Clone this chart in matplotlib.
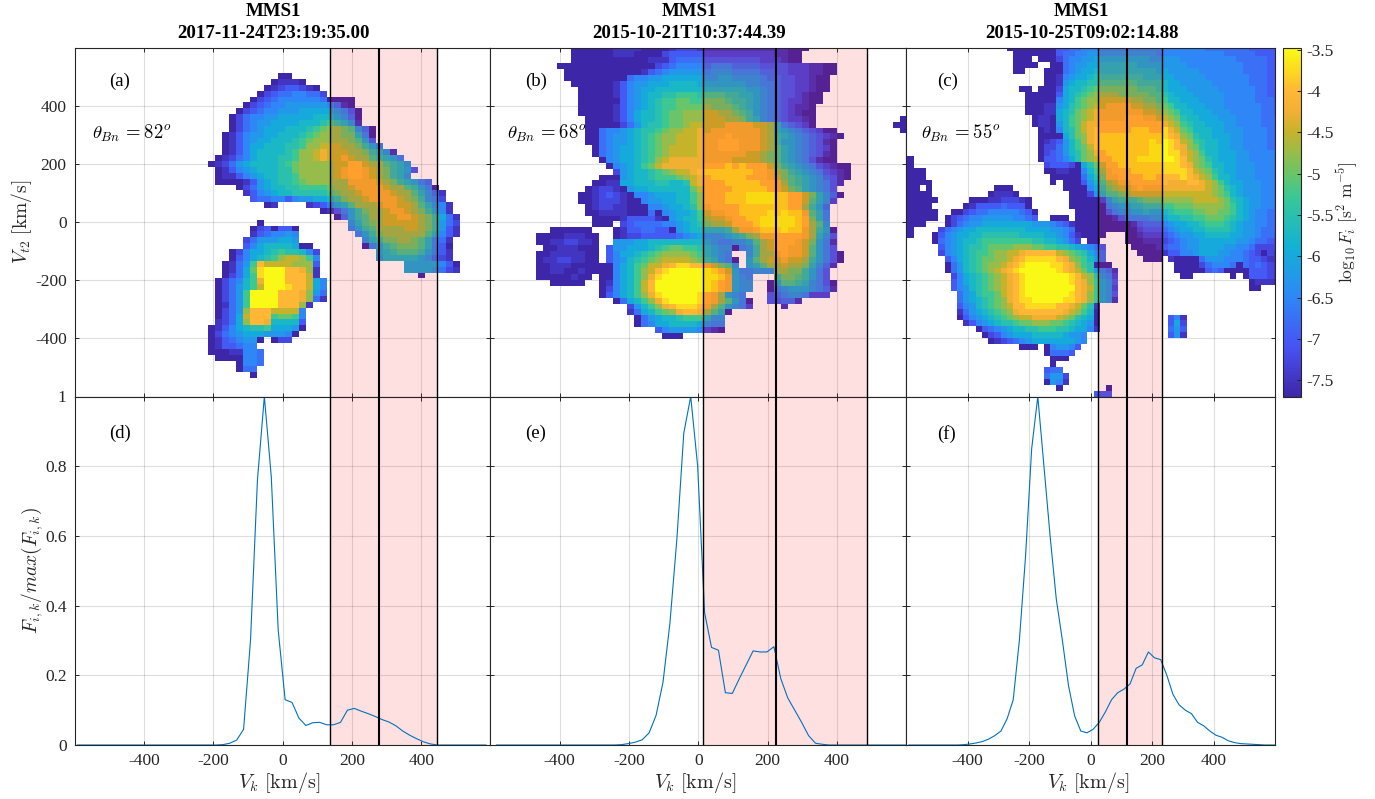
import numpy as np
import matplotlib
matplotlib.use("Agg")
import matplotlib.pyplot as plt
from matplotlib.colors import LinearSegmentedColormap

plt.rcParams['font.family'] = ['Liberation Serif', 'DejaVu Serif']
plt.rcParams['mathtext.fontset'] = 'cm'
plt.rcParams['axes.unicode_minus'] = False

# heat maps: each row is "startcol values startcol values ...", top row first
# one char per cell, see level_chars below. blank = no data
level_chars = "0123456789abcdefgh"
level_vals = [-7.7, -7.5, -7.25, -7.0, -6.75, -6.5, -6.25, -6.0, -5.75, -5.5,
              -5.25, -5.0, -4.75, -4.5, -4.25, -4.0, -3.75, -3.5]

rows_a = [
"", "", "", "",
"29 00",
"28 01110",
"27 01233210",
"26 0234455442",
"25 02345555554 36 0000",
"24 0234556666665410",
"23 023455666777776530",
"22 0245566777778887640",
"22 02456677778889a9861",
"22 024567778889abccba640",
"21 0135667788 31 89abcccbb850",
"21 01356778889abcccccba73",
"21 01357788899accdddccb975",
"21 0135788889accdedddccb9861",
"20 01245788899accdeddedcca9875",
"19 01246788889abcccccddffdcca986",
"20 01356788899bcccccdeffedcb9873",
"20 01135678899acccccdeffedcb986",
"20 0000136789 30 9abcccccceeeedcb98754",
"23 024678899aaaabccdeeeedcca9750",
"24 135678899999abccdeeeedcca8641",
"25 3445535667789bccdeeeedcb9652",
"27 01 33 123578acccdeeddca8651",
"35 013579bccdeedcb9751",
"37 0479accddeedcb9741",
"26 0 39 68abcdddddcb9642",
"25 0230330 39 579accccddcb9631",
"25 1345565 40 579bcccccca8531",
"24 24666776 41 689bbccba8541",
"24 3578888700 41 0579abbba8530",
"22 0257789a99852 43 789aaa97531",
"22 035789acddca5 43 68888876421",
"21 0146afddddccc3 47 77777530",
"21 0147bghhhffec1 47 77776421",
"21 0247aghhhfffd1 49 0",
"20 02458aehhhfffd75",
"20 02468adhhhgffd75",
"20 0246ahhhhfffec64",
"20 0246ahhhhfffec41",
"20 0146ahhhhfffc1",
"20 0246cfffdddd5",
"20 0247dfffabba5",
"20 1247cffe88883",
"19 01357899a77760",
"19 0245677766650",
"19 01345660 28 022",
"19 0133455",
"19 00011554",
"20 0000554",
"23 0554",
"23 044",
"25 0",
]

rows_b = [
"11 00000011110000 25 1222 29 111111111111 41 1000",
"11 0000001110000 24 233333 30 22222222221 41 100",
"11 00000000000111 25 34444 30 33333333222 41 100",
"9 00000000000000 23 2345555 30 45554444333 41 32221100",
"10 00000000000 21 134566666 30 56665555443 41 32221100",
"10 000000000 19 45566777777 30 66776666544 41 3322100",
"11 000000 17 1356677788887 30 77777766554 41 3322100",
"12 00000 17 1356778888888 30 88888877654 41 3322100",
"12 0000 16 0135678899aaa9 30 aaa99887654 41 332100",
"12 0000 16 00356789aabbaa 30 bbba9987654 41 322100",
"12 0000 16 01356789aabbbb 30 cbbba987654 41 32110",
"12 0000 16 01357889abbccc 30 ddccba97654 41 32100",
"13 000 16 01357889abbccc 30 dddccb98654 41 32210 58 0",
"13 000 16 00246899abbcdd 30 dddeeeeddc8 41 54320 57 00",
"13 00 15 45567899abccdde 30 deeeeeeedc8 41 76543200 58 0",
"13 00 15 4566789abccddde 30 eeefeeeedc9 41 876543210",
"13 00 15 4566789abccddde 30 eefffeeedc9 41 77654310",
"14 0 15 4567789abcdddde 30 eefffeeedca 41 87654320",
"14 0 15 4567789abcdddde 30 eeeeeeddcba 41 87654310",
"15 0567789acdeeeee 30 eeeeddddcba 41 87653100",
"16 05678abdeeeeee 30 fffgfgfffdb 41 9876532100",
"17 267889abcddef 30 gggggggffec 41 b987653210",
"15 000 18 67889aaabcde 30 fgggggfffed 41 ba98764310",
"14 0011 18 7788899889de 30 fffgggggffe 41 ca9876531",
"13 012210 19 677888888bd 30 ffffgggggfe 41 dba87653",
"12 00123210 20 55677788ac 30 fffggghhhhg 41 gffdb8640",
"12 001222100 21 5667788ac 30 fffggghhhhg 41 gffda862",
"13 012211000 22 5567789c 30 effffgggggg 41 gffc974",
"13 001111000 22 4056778a 30 deeffgggghg 41 hggea85",
"14 0000 18 1333310 25 6788a 30 cddeffgghhh 41 hhgfb85",
"14 000 18 234444556789 30 bccdfffghhh 41 hhgfca6",
"8 000000 17 013344330 26 6788 30 8889ceefggg 41 hggec970",
"6 000011100 17 0122333334567 30 666789bceef 41 fffec863",
"6 001122110 17 6667788888888 30 7655667acdf 41 ffedb751",
"7 00111000 16 36677789abbaa9 30 87660569cdf 41 feeda753",
"6 001111100 16 357789abccccba 30 8765 36 69cce 41 feeda7530",
"6 011221100 16 35689abcddddcb 30 98650 36 7acdd 41 eddc97530",
"6 00111000000 17 578abddefggff 30 edba6 36 78acc 41 dccb8641",
"6 00110010000 17 578acdfghhhhhhgfd75 36 5666ccbb9753",
"6 00000100 15 00578aceghhhhhhhhge765 40 9bba9753",
"8 00000 15 01578adfhhhhhhhhgfe766 39 07aa986530",
"15 02578adfhhhhhhhhgfe766 39 0567776541",
"15 03578aceghhhhhgfec765 39 345665222",
"17 0478aceghhhhgfeca750 39 33441",
"19 268acefgggfeca7652 41 1",
"19 1478abceffeca80",
"20 0467889aaa866",
"20 0457788887655",
"23 3566665210",
"24 000",
]

rows_c = [
"16 00000000 24 33445555 32 555555555 41 5555555444444433333",
"17 0000000 24 34455666 32 666666665 41 5555555555444443333",
"17 000 21 000 24 24556677 32 777777766 41 6665555555554444433",
"17 0000 23 0 24 04566778 32 888887777 41 6666555555555444433",
"17 00 22 00 24 04567788 32 888888887 41 7666665555555444433",
"22 00 24 15677899 32 999999888 41 7766666555555544433",
"22 00 24 1678899a 32 aaaaa9999 41 8776666655555544433",
"18 00 21 000 24 27889abb 32 bbbbbaaa9 41 8777666665555554433",
"19 00000 24 3789abcc 32 ccbbbbbaa 41 9877766666555554433",
"19 00000 24 578abccd 32 ddddccbba 41 a887776666555554443",
"19 00011 24 679abcdd 32 eeeeddccb 41 ba88777666555555443",
"19 00011 24 789bcdee 32 eeeeeeddc 41 cba8877766655555443",
"20 0110 24 78abcdee 32 eeefffeed 41 dcb9887776665555444",
"20 0110 24 68abdeef 32 fffffffff 41 edca988777665555444",
"21 010 24 589bdeff 32 ffffgggff 41 gedba88877666555544",
"21 0000 25 79bcefg 32 ggggggggg 41 gfecb98877766555544",
"21 0123 25 68acefg 32 ggggggghg 41 hgfdca9887766555544",
"21 0224 25 68abdfg 32 ggggggghh 41 hgfecb9887766555544",
"21 0234 25 689bcef 32 ggggggghh 41 hggedca887776655554",
"0 0 21 0334 25 579bcdf 32 fgggghhhh 41 hhgfdcb987776655554",
"0 0 22 23332079bd 32 ffggggggg 41 gggfecba88776665554",
"0 000 22 001100 28 58ac 32 efffggggg 41 ggggfdcb98776665554",
"0 000 23 00000 28 479b 32 eeffffggf 41 fffgfedca8876665554",
"0 0000 23 0 25 000 28 368a 32 cdeefffff 41 feeeffedca877666554",
"0 00 3 0 14 000 25 0000 29 579 32 bcddefeee 41 eeeeeeedcb987666554",
"0 0000 13 01110 26 000 29 268 32 aabcddddd 41 ddddddddcba87666554",
"0 00000 10 0001122210 26 00000 31 2 32 68999abbb 41 cccccddddcb98766554",
"0 0000 9 01333343330 26 000000 32 567788999 41 aabbbcccccba8766554",
"0 00000 7 00234455555430 27 00000 32 356677877 41 89aaabbccbba8765544",
"0 00000 6 023455666665543 23 000 27 00000 32 013555566 41 78899aabbba98765544",
"0 000 6 024566777777776665431 27 000000000 36 13444 41 5677889aaa987665544",
"0 0 5 24567788888888777766540 28 00000000 36 02333 41 4567788999987665444",
"0 0 4 035677889999998888776531 28 0000 35 0 36 01222 41 3456677888877665443",
"4 04567889aaaaaaaa99887642 29 00 35 0 36 00111 41 2345667777776654432",
"5 3567899abbbbcccbbaa99876543 36 00001 41 3445667777665542222",
"5 256789aabccddefffffdcba9754 37 0000 41 1335567776655432021",
"6 35789abbccdefgggggfecba864 38 000 42 100004666555433211",
"6 04689abccdefghhhhggfeca9000 43 0000 47 2455540434321",
"6 04689abcdefghhhhhhgfedb96541 43 0000 47 0343000033321",
"7 25789abcdefghhhhhhhgfdc9652 44 00 52 0 54 0 55 33321",
"7 35789abcdefghhhhhhhgfeca763 55 01110",
"7 35689abcdefghhhhhhhhfeda762 55 00",
"8 4679aabdefghhhhhhhgfeca763",
"8 46789abcefgghhhhhggfeca761",
"8 35689abcdffgggggffedb91",
"8 146789abcefffffffedca80",
"8 0356789abcddeeeedcb9870 42 351",
"9 13567899abbcccbba98760 42 372",
"11 0345678899aaa9987751 42 463",
"12 02356777888887665 42 361",
"13 0123456777777765",
"18 000 22 056653",
"22 04443",
"23 000",
"23 0",
"22 344",
"22 4662",
"22 0651",
"24 0 32 0",
"30 333",
]

# where the heat map cells start, km/s
x_start = [-598.5, -588.7, -596.4]
y_start = [594.4, 608.6, 611.4]
cell = 20.2

# line cuts, values every 20 km/s from vk_start
vk_start = [-593, -582, -592]
cut_a = [0]*21 + [0.001, 0.005, 0.014, 0.045, 0.30, 0.76, 1.0, 0.77, 0.33, 0.13, 0.122,
                  0.077, 0.056, 0.064, 0.065, 0.058, 0.058, 0.065, 0.10, 0.105, 0.097,
                  0.09, 0.082, 0.073, 0.066, 0.055, 0.04, 0.028, 0.018, 0.009, 0.003] + [0]*8
cut_b = [0]*18 + [0.001, 0.004, 0.008, 0.015, 0.035, 0.085, 0.18, 0.35, 0.59, 0.895, 1.0,
                  0.80, 0.38, 0.28, 0.272, 0.15, 0.148, 0.19, 0.23, 0.27, 0.267, 0.267,
                  0.282, 0.19, 0.135, 0.10, 0.065, 0.027, 0.005, 0.002] + [0]*12
cut_c = [0]*9 + [0.001, 0.003, 0.006, 0.01, 0.017, 0.027, 0.04, 0.075, 0.13, 0.30, 0.54, 0.85,
                 1.0, 0.80, 0.60, 0.42, 0.30, 0.17, 0.083, 0.04, 0.035, 0.045, 0.065, 0.095,
                 0.13, 0.15, 0.16, 0.175, 0.22, 0.23, 0.267, 0.25, 0.245, 0.20, 0.145, 0.115,
                 0.10, 0.09, 0.065, 0.055, 0.04, 0.028, 0.022, 0.012, 0.007, 0.004, 0.003,
                 0.002, 0.001, 0, 0, 0]

band_left = [138, 12, 25]
band_mid = [278, 224, 119]
band_right = [447, 488, 231]

titles = ["2017-11-24T23:19:35.00", "2015-10-21T10:37:44.39", "2015-10-25T09:02:14.88"]
spacecraft = "MMS1"
theta = ["82", "68", "55"]
top_tags = ["(a)", "(b)", "(c)"]
bot_tags = ["(d)", "(e)", "(f)"]

vt_ticks = [-400, -200, 0, 200, 400]
vk_ticks = [-400, -200, 0, 200, 400]
norm_ticks = [0, 0.2, 0.4, 0.6, 0.8, 1]
norm_labels = ["0", "0.2", "0.4", "0.6", "0.8", "1"]
cb_ticks = [-7.5, -7, -6.5, -6, -5.5, -5, -4.5, -4, -3.5]
cb_labels = ["-7.5", "-7", "-6.5", "-6", "-5.5", "-5", "-4.5", "-4", "-3.5"]

# parula, warm end adjusted to what the colorbar in the picture shows
parula = LinearSegmentedColormap.from_list("parula", [
    (0.0, (0.2422, 0.1504, 0.6603)), (0.143, (0.2810, 0.3228, 0.9579)),
    (0.286, (0.1786, 0.5289, 0.9682)), (0.429, (0.0689, 0.6948, 0.8394)),
    (0.571, (0.2161, 0.7843, 0.5923)), (0.643, (0.42, 0.77, 0.40)),
    (0.762, (0.78, 0.70, 0.17)), (0.82, (0.95, 0.69, 0.20)),
    (0.88, (1.0, 0.72, 0.21)), (0.94, (0.99, 0.86, 0.12)), (1.0, (0.9769, 0.9839, 0.0805))])

W, H = 1375, 799
DARK = '#262626'


def read_rows(rows):
    grid = np.full((60, 60), np.nan)
    for j, line in enumerate(rows):
        parts = line.split()
        for start, vals in zip(parts[::2], parts[1::2]):
            for k, ch in enumerate(vals):
                c = int(start) + k
                if c < 60:
                    grid[j, c] = level_vals[level_chars.index(ch)]
    return grid


def px_axes(x0, x1, y0, y1):
    return fig.add_axes([x0/W, 1 - y1/H, (x1 - x0)/W, (y1 - y0)/H])


def setup(ax):
    ax.set_xlim(-600, 600)
    ax.set_axisbelow(True)
    ax.grid(True, color='k', alpha=0.13, lw=0.8)
    ax.tick_params(direction='in', length=3, width=0.7, top=True, right=True,
                   color=DARK, labelcolor=DARK, labelsize=12.5, pad=6)
    for s in ax.spines.values():
        s.set_color(DARK)
        s.set_linewidth(0.8)


def bands(ax, i):
    ax.axvspan(band_left[i], band_right[i], color='red', alpha=0.12, lw=0, zorder=2)
    ax.axvline(band_left[i], color='k', lw=1.0, zorder=3)
    ax.axvline(band_mid[i], color='k', lw=1.5, zorder=3)
    ax.axvline(band_right[i], color='k', lw=1.0, zorder=3)


fig = plt.figure(figsize=(W/100, H/100), dpi=100)

left_px = [75, 490.4, 906.3]
right_px = [490.4, 906.3, 1275]
all_rows = [rows_a, rows_b, rows_c]
cuts = [cut_a, cut_b, cut_c]

for i in range(3):
    ax = px_axes(left_px[i], right_px[i], 48, 396.5)
    setup(ax)
    grid = read_rows(all_rows[i])
    xe = x_start[i] + cell*np.arange(61)
    ye = y_start[i] - cell*np.arange(61)
    mesh = ax.pcolormesh(xe, ye, grid, cmap=parula, vmin=-7.7, vmax=-3.48,
                         edgecolors='none', antialiased=False, zorder=1)
    ax.set_ylim(-600, 600)
    ax.set_xticks(vk_ticks)
    ax.set_yticks(vt_ticks)
    ax.set_xticklabels([])
    bands(ax, i)
    if i == 0:
        ax.set_yticklabels([str(v) for v in vt_ticks])
        ax.set_ylabel(r"$V_{t2}\ \mathrm{[km/s]}$", fontsize=14, color=DARK, labelpad=1)
    else:
        ax.set_yticklabels([])
    ax.text(0.083, 0.905, top_tags[i], transform=ax.transAxes, fontsize=13.5, ha='left', va='center')
    ax.text(0.04, 0.755, r"$\theta_{Bn}\,=%s^o$" % theta[i], transform=ax.transAxes,
            fontsize=13.5, ha='left', va='center', color='k')

    mid = (left_px[i] + right_px[i])/2 - 9
    fig.text(mid/W, 1 - 11/H, spacecraft, fontsize=13.6, fontweight='bold', ha='center', va='center')
    fig.text(mid/W, 1 - 34/H, titles[i], fontsize=13.6, fontweight='bold', ha='center', va='center')

    ax2 = px_axes(left_px[i], right_px[i], 396.5, 745)
    setup(ax2)
    vk = vk_start[i] + 20*np.arange(len(cuts[i]))
    ax2.plot(vk, cuts[i], color=(0, 0.447, 0.741), lw=0.8, zorder=2.5)
    ax2.set_ylim(0, 1)
    ax2.set_xticks(vk_ticks)
    ax2.set_xticklabels([str(v) for v in vk_ticks])
    ax2.set_yticks(norm_ticks)
    bands(ax2, i)
    if i == 0:
        ax2.set_yticklabels(norm_labels)
        ax2.set_ylabel(r"$F_{i,k}/max(F_{i,k})$", fontsize=14, color=DARK, labelpad=0)
    else:
        ax2.set_yticklabels([])
    ax2.set_xlabel(r"$V_k\ \mathrm{[km/s]}$", fontsize=14.5, color=DARK, labelpad=1)
    ax2.xaxis.set_label_coords(0.492, -0.073)
    ax2.text(0.083, 0.893, bot_tags[i], transform=ax2.transAxes, fontsize=13.5, ha='left', va='center')

cax = px_axes(1283, 1301, 48, 397)
cb = fig.colorbar(mesh, cax=cax)
cb.set_ticks(cb_ticks)
cb.set_ticklabels(cb_labels)
cb.ax.tick_params(direction='in', length=3, width=0.7, color=DARK, labelcolor=DARK, labelsize=12.5, pad=4)
cb.outline.set_edgecolor(DARK)
cb.outline.set_linewidth(0.8)
fig.text(1347/W, 1 - 222/H, r"$\log_{10}F_i\ \mathrm{[s^2\ m^{-5}]}$", rotation=90, fontsize=12.5,
         ha='center', va='center', color=DARK)

fig.savefig("out.png", dpi=100)
